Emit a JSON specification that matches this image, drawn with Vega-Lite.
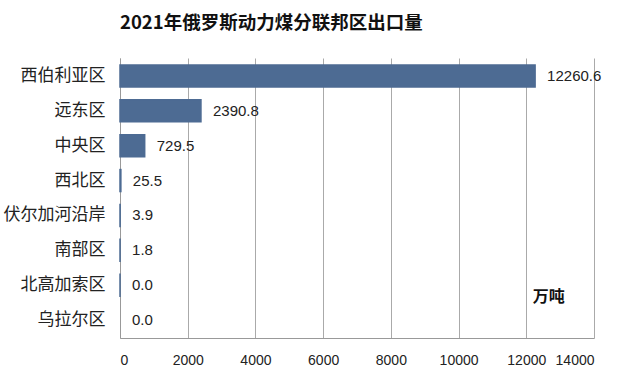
{
  "$schema": "https://vega.github.io/schema/vega-lite/v6.json",
  "width": 474,
  "height": 280,
  "autosize": "none",
  "padding": {"left": 120, "top": 58, "right": 23, "bottom": 39},
  "background": "white",
  "title": {
    "text": "2021年俄罗斯动力煤分联邦区出口量",
    "anchor": "start",
    "frame": "group",
    "font": "Noto Sans CJK SC",
    "fontSize": 18.5,
    "fontWeight": "bold",
    "color": "#111111",
    "offset": 26
  },
  "config": {
    "view": {"stroke": null},
    "font": "Noto Sans CJK SC"
  },
  "data": {
    "values": [
      {"region": "西伯利亚区", "value": 12260.6},
      {"region": "远东区", "value": 2390.8},
      {"region": "中央区", "value": 729.5},
      {"region": "西北区", "value": 25.5},
      {"region": "伏尔加河沿岸", "value": 3.9},
      {"region": "南部区", "value": 1.8},
      {"region": "北高加索区", "value": 0.02},
      {"region": "乌拉尔区", "value": 0.0}
    ]
  },
  "encoding": {
    "y": {
      "field": "region",
      "type": "nominal",
      "sort": null,
      "scale": {"paddingInner": 0.37, "paddingOuter": 0.2},
      "axis": {
        "title": null,
        "ticks": false,
        "domainColor": "#999999",
        "labelFontSize": 17,
        "labelColor": "#222222",
        "labelPadding": 15,
        "labelFont": "Noto Sans CJK SC"
      }
    },
    "x": {
      "field": "value",
      "type": "quantitative",
      "scale": {"domain": [0, 14000], "nice": false},
      "axis": {
        "title": null,
        "values": [0, 2000, 4000, 6000, 8000, 10000, 12000, 14000],
        "format": "d",
        "ticks": false,
        "grid": true,
        "gridColor": "#aaaaaa",
        "domainColor": "#999999",
        "labelFontSize": 14,
        "labelColor": "#222222",
        "labelPadding": 15,
        "labelFont": "Liberation Sans"
      }
    }
  },
  "layer": [
    {
      "mark": {"type": "bar", "color": "#4d6b93", "stroke": "#4d6b93"},
      "encoding": {
        "strokeWidth": {"condition": {"test": "datum.value > 0", "value": 1.5}, "value": 0}
      }
    },
    {
      "mark": {"type": "text", "align": "left", "baseline": "middle", "dx": 12, "fontSize": 15, "color": "#222222", "font": "Liberation Sans"},
      "encoding": {
        "text": {"field": "value", "type": "quantitative", "format": ".1f"}
      }
    },
    {
      "data": {"values": [{"region": "北高加索区", "value": 12660, "label": "万吨"}]},
      "mark": {"type": "text", "align": "center", "baseline": "middle", "dy": 12, "fontSize": 16, "fontWeight": "bold", "color": "#111111", "font": "Noto Sans CJK SC"},
      "encoding": {
        "text": {"field": "label"}
      }
    }
  ]
}
